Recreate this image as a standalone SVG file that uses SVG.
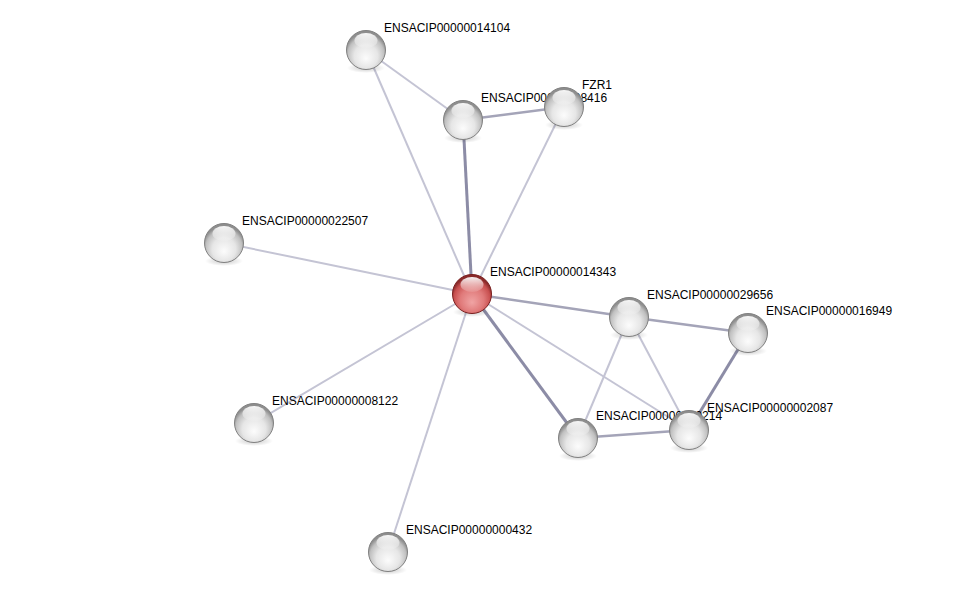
<svg xmlns="http://www.w3.org/2000/svg" width="976" height="597" viewBox="0 0 976 597">
<defs>
<radialGradient id="gGray" cx="0.5" cy="0.62" r="0.55" fx="0.5" fy="0.72">
<stop offset="0" stop-color="#fcfcfc"/>
<stop offset="0.55" stop-color="#e6e6e6"/>
<stop offset="0.85" stop-color="#c0c0c0"/>
<stop offset="1" stop-color="#8e8e8e"/>
</radialGradient>
<radialGradient id="gRed" cx="0.5" cy="0.62" r="0.55" fx="0.5" fy="0.72">
<stop offset="0" stop-color="#f0a4a4"/>
<stop offset="0.55" stop-color="#e07a7a"/>
<stop offset="0.85" stop-color="#c85050"/>
<stop offset="1" stop-color="#8a2a2a"/>
</radialGradient>
<linearGradient id="gHi" x1="0" y1="0" x2="0" y2="1">
<stop offset="0" stop-color="#ffffff" stop-opacity="0.95"/>
<stop offset="1" stop-color="#ffffff" stop-opacity="0.1"/>
</linearGradient>
<radialGradient id="gShadow" cx="0.5" cy="0.5" r="0.5">
<stop offset="0" stop-color="#000" stop-opacity="0.22"/>
<stop offset="1" stop-color="#000" stop-opacity="0"/>
</radialGradient>
<g id="sphere">
<ellipse cx="0" cy="18" rx="19" ry="5" fill="url(#gShadow)"/>
<circle r="19.5" fill="url(#gGray)" stroke="#808080" stroke-width="1"/>
<ellipse cx="0" cy="-9.5" rx="11.5" ry="7.5" fill="url(#gHi)"/>
</g>
<g id="sphereRed">
<ellipse cx="0" cy="18" rx="19" ry="5" fill="url(#gShadow)"/>
<circle r="19.5" fill="url(#gRed)" stroke="#7a2020" stroke-width="1"/>
<ellipse cx="0" cy="-9.5" rx="11.5" ry="7.5" fill="url(#gHi)"/>
</g>
</defs>
<style>
.lbl{font-family:"Liberation Sans",Arial,sans-serif;font-size:12px;fill:#000}
.e1{stroke:#c4c4d4;stroke-width:2;fill:none}
.e2{stroke:#a4a4b8;stroke-width:2.4;fill:none}
.e3{stroke:#8c8ca6;stroke-width:3;fill:none}
</style>
<rect width="976" height="597" fill="#ffffff"/>
<g id="edges">
<line class="e1" x1="366" y1="50" x2="463" y2="120"/>
<line class="e1" x1="366" y1="50" x2="472" y2="294"/>
<line class="e2" x1="463" y1="120" x2="564" y2="107"/>
<line class="e3" x1="463" y1="120" x2="472" y2="294"/>
<line class="e1" x1="564" y1="107" x2="472" y2="294"/>
<line class="e1" x1="224" y1="243" x2="472" y2="294"/>
<line class="e1" x1="254" y1="423" x2="472" y2="294"/>
<line class="e1" x1="388" y1="552" x2="472" y2="294"/>
<line class="e2" x1="472" y1="294" x2="629" y2="317"/>
<line class="e3" x1="472" y1="294" x2="578" y2="438"/>
<line class="e1" x1="472" y1="294" x2="689" y2="430"/>
<line class="e2" x1="629" y1="317" x2="748" y2="333"/>
<line class="e1" x1="629" y1="317" x2="578" y2="438"/>
<line class="e1" x1="629" y1="317" x2="689" y2="430"/>
<line class="e3" x1="748" y1="333" x2="689" y2="430"/>
<line class="e2" x1="578" y1="438" x2="689" y2="430"/>
</g>
<g id="n14104"><use href="#sphere" x="366" y="50"/><text class="lbl" x="384" y="32">ENSACIP00000014104</text></g>
<g id="n8416"><use href="#sphere" x="463" y="120"/><text class="lbl" x="481" y="102">ENSACIP00000008416</text></g>
<g id="nFZR1"><use href="#sphere" x="564" y="107"/><text class="lbl" x="582" y="89">FZR1</text></g>
<g id="n22507"><use href="#sphere" x="224" y="243"/><text class="lbl" x="242" y="225">ENSACIP00000022507</text></g>
<g id="n8122"><use href="#sphere" x="254" y="423"/><text class="lbl" x="272" y="405">ENSACIP00000008122</text></g>
<g id="n432"><use href="#sphere" x="388" y="552"/><text class="lbl" x="406" y="534">ENSACIP00000000432</text></g>
<g id="n29656"><use href="#sphere" x="629" y="317"/><text class="lbl" x="647" y="299">ENSACIP00000029656</text></g>
<g id="n16949"><use href="#sphere" x="748" y="333"/><text class="lbl" x="766" y="315">ENSACIP00000016949</text></g>
<g id="n214"><use href="#sphere" x="578" y="438"/><text class="lbl" x="596" y="420">ENSACIP00000000214</text></g>
<g id="n2087"><use href="#sphere" x="689" y="430"/><text class="lbl" x="707" y="412">ENSACIP00000002087</text></g>
<g id="n14343"><use href="#sphereRed" x="472" y="294"/><text class="lbl" x="490" y="276">ENSACIP00000014343</text></g>
</svg>
